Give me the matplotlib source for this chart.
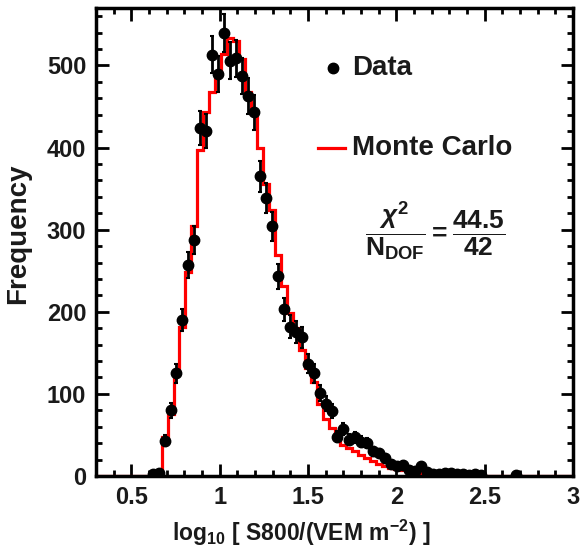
import matplotlib
matplotlib.use("Agg")
import matplotlib.pyplot as plt
import numpy as np
from matplotlib.ticker import MultipleLocator

# histogram binning: 80 bins from 0.3 to 3.0 in log10(S800)
bin_edges = np.linspace(0.3, 3.0, 81)

# measured events per bin (bins 9..70 hold entries)
data_counts = [0] * 9 + [
    2, 4, 43, 80, 125, 190, 257, 287, 424, 420,
    513, 490, 540, 506, 509, 487, 463, 443, 365, 339,
    304, 243, 203, 182, 175, 169, 137, 125, 101, 88,
    79, 48, 57, 44, 47, 42, 40, 30, 28, 22,
    15, 12, 14, 7, 6, 12, 5, 3, 3, 4,
    4, 3, 2, 1, 3, 1, 0, 0, 0, 0, 0, 1,
] + [0] * 9

# Monte Carlo expectation per bin
mc_counts = [0] * 9 + [
    0, 0, 48, 75, 129, 182, 249, 304, 397, 443,
    468, 492, 514, 534, 530, 508, 468, 441, 399, 356,
    324, 269, 232, 198, 180, 153, 131, 115, 88, 70,
    58, 50, 38, 34, 30, 26, 22, 18, 15, 12,
    10, 8, 7, 6, 5, 4, 3, 3, 2, 2,
    2, 1, 1, 1, 1, 1,
] + [0] * 15

xtick_vals = [0.5, 1, 1.5, 2, 2.5, 3]
xtick_labels = ["0.5", "1", "1.5", "2", "2.5", "3"]
ytick_vals = [0, 100, 200, 300, 400, 500]

chi2 = "44.5"
ndof = "42"

plt.rcParams["font.family"] = ["Liberation Sans", "DejaVu Sans"]
plt.rcParams["font.weight"] = "bold"
plt.rcParams["mathtext.fontset"] = "custom"
plt.rcParams["mathtext.rm"] = "Liberation Sans:bold"
plt.rcParams["mathtext.it"] = "Liberation Sans:italic:bold"
plt.rcParams["mathtext.bf"] = "Liberation Sans:bold"

txt = "#1a1a1a"

fig = plt.figure(figsize=(5.81, 5.59), dpi=100)
ax = fig.add_axes([96 / 581, 1 - 476 / 559, (573 - 96) / 581, (476 - 8) / 559])

centers = 0.5 * (bin_edges[:-1] + bin_edges[1:])
data = np.array(data_counts, dtype=float)
mc = np.array(mc_counts, dtype=float)

ax.stairs(mc, bin_edges, color="red", lw=2.3, zorder=2)

m = data > 0
ax.errorbar(centers[m], data[m], yerr=np.sqrt(data[m]), fmt="o", color="black",
            ms=7.5, elinewidth=2, capsize=1.5, capthick=1.5, zorder=3)

ax.set_xlim(0.3, 3.0)
ax.set_ylim(0, 570)
ax.set_xticks(xtick_vals)
ax.set_xticklabels(xtick_labels)
ax.set_yticks(ytick_vals)
ax.xaxis.set_minor_locator(MultipleLocator(0.1))
ax.yaxis.set_minor_locator(MultipleLocator(20))
ax.tick_params(which="both", direction="in", top=True, right=True, width=2,
               labelsize=17, pad=7, colors="black", labelcolor=txt)
ax.tick_params(which="major", length=9)
ax.tick_params(which="minor", length=4.5)
for s in ax.spines.values():
    s.set_linewidth(2.5)

# axis titles
fig.text(18 / 581, 1 - 234 / 559, "Frequency", rotation=90, ha="center", va="center",
         fontsize=20, color=txt)
fig.text(301 / 581, 1 - 533 / 559, r"log$_{10}$ [ S800/(VEM m$^{-2}$) ]",
         ha="center", va="center", fontsize=16.5, color=txt)

# legend
fig.lines.append(plt.Line2D([333 / 581], [1 - 68 / 559], marker="o", ms=7.5, color="black",
                            transform=fig.transFigure))
fig.text(352 / 581, 1 - 68 / 559, "Data", ha="left", va="center", fontsize=20, color=txt)
fig.lines.append(plt.Line2D([318 / 581, 345 / 581], [1 - 148 / 559] * 2, color="red", lw=2.3,
                            transform=fig.transFigure))
fig.text(352 / 581, 1 - 148 / 559, "Monte Carlo", ha="left", va="center", fontsize=20, color=txt)

fig.text(435 / 581, 1 - 231 / 559,
         r"$\dfrac{\chi^2}{\mathrm{N}_{\mathrm{DOF}}} = \dfrac{%s}{%s}$" % (chi2, ndof),
         ha="center", va="center", fontsize=19, color=txt)

fig.savefig("out.png", dpi=100)
